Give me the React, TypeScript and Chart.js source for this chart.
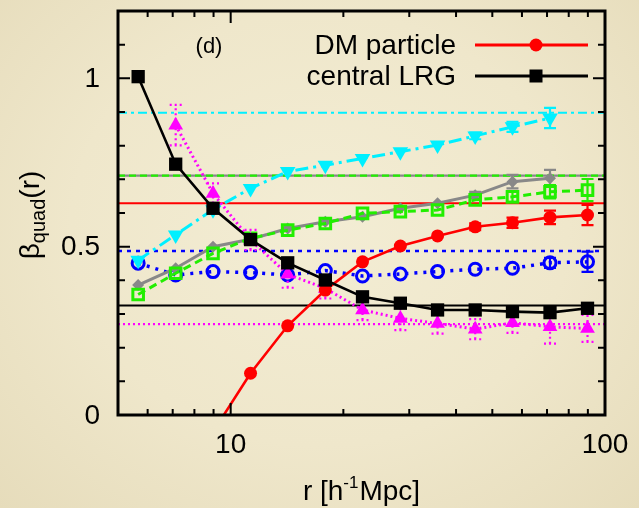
import React, { useEffect, useRef } from "react";
import { Chart, registerables } from "chart.js";

Chart.register(...registerables);

// ---- data ----
const rValues = [5.66, 7.13, 8.97, 11.3, 14.2, 17.9, 22.5, 28.4, 35.7, 45.0, 56.6, 71.3, 89.8];

const dmParticle = [null, null, -0.05, 0.124, 0.265, 0.371, 0.455, 0.502, 0.532, 0.559, 0.571, 0.587, 0.594];
const dmParticleErr = [null, null, null, null, null, null, null, null, null, 0.01, 0.015, 0.02, 0.03];

const centralLRG = [1.005, 0.745, 0.614, 0.521, 0.452, 0.401, 0.351, 0.332, 0.312, 0.312, 0.307, 0.304, 0.317];
const centralLRGErr = [null, null, null, null, null, null, null, null, null, null, null, null, 0.015];

const magentaSeries = [null, 0.861, 0.658, 0.52, 0.418, 0.376, 0.312, 0.287, 0.272, 0.255, 0.274, 0.262, 0.257];
const magentaErr = [null, 0.06, 0.03, 0.03, 0.04, 0.03, 0.03, 0.035, 0.03, 0.03, 0.03, 0.05, 0.04];

const cyanSeries = [0.46, 0.535, 0.61, 0.673, 0.723, 0.742, 0.762, 0.782, 0.802, 0.829, 0.856, 0.882, null];
const cyanErr = [null, null, null, null, null, null, null, null, null, 0.01, 0.015, 0.03, null];

const graySeries = [0.386, 0.436, 0.5, 0.522, 0.554, 0.574, 0.589, 0.614, 0.629, 0.653, 0.693, 0.703, null];
const grayErr = [null, null, null, null, null, null, null, null, null, 0.01, 0.02, 0.025, null];

const greenSeries = [0.358, 0.421, 0.48, 0.525, 0.549, 0.569, 0.599, 0.604, 0.609, 0.639, 0.648, 0.663, 0.668];
const greenErr = [null, null, null, null, null, null, null, null, null, null, 0.015, 0.02, 0.033];

const blueSeries = [0.451, 0.416, 0.426, 0.423, 0.416, 0.429, 0.413, 0.419, 0.426, 0.433, 0.436, 0.452, 0.455];
const blueErr = [null, null, null, null, null, null, null, null, null, null, null, 0.015, 0.03];

// reference (horizontal) levels
const refRed = 0.629;
const refBlack = 0.325;
const refMagenta = 0.27;
const refCyan = 0.898;
const refGreen = 0.711;
const refGray = 0.711;
const refBlue = 0.487;

const xRange = [5, 100];
const yRange = [0, 1.2];

const xMajorTicks = [10, 100];
const xMinorTicks = [6, 7, 8, 9, 20, 30, 40, 50, 60, 70, 80, 90];
const yMajorTicks = [0, 0.5, 1];
const yMinorTicks = [0.1, 0.2, 0.3, 0.4, 0.6, 0.7, 0.8, 0.9, 1.1];
const xTickLabels = ["10", "100"];
const yTickLabels = ["0", "0.5", "1"];

const legendLabels = ["DM particle", "central LRG"];
const panelLabel = "(d)";

const FONT = '"Liberation Sans", Arial, Helvetica, sans-serif';

function pts(vals: (number | null)[]) {
  return rValues.map((x, i) => ({ x, y: vals[i] }));
}
function refPts(v: number) {
  return [
    { x: xRange[0], y: v },
    { x: xRange[1], y: v },
  ];
}

const overlayPlugin = {
  id: "overlay",
  afterDatasetDraw(chart: any, args: any) {
    const ds: any = chart.data.datasets[args.index];
    if (!ds.errors) return;
    const { ctx, chartArea } = chart;
    const xs = chart.scales.x;
    const ys = chart.scales.y;
    ctx.save();
    ctx.beginPath();
    ctx.rect(chartArea.left, chartArea.top, chartArea.right - chartArea.left, chartArea.bottom - chartArea.top);
    ctx.clip();
    ctx.strokeStyle = ds.borderColor;
    ctx.lineWidth = 2.2;
    ctx.setLineDash(ds.errDash || []);
    ds.data.forEach((p: any, i: number) => {
      const e = ds.errors[i];
      if (e == null || p.y == null) return;
      const px = xs.getPixelForValue(p.x);
      const y1 = ys.getPixelForValue(p.y - e);
      const y2 = ys.getPixelForValue(p.y + e);
      ctx.beginPath();
      ctx.moveTo(px, y1);
      ctx.lineTo(px, y2);
      ctx.moveTo(px - 6, y1);
      ctx.lineTo(px + 6, y1);
      ctx.moveTo(px - 6, y2);
      ctx.lineTo(px + 6, y2);
      ctx.stroke();
    });
    ctx.restore();
  },
  afterDraw(chart: any) {
    const { ctx, chartArea } = chart;
    const xs = chart.scales.x;
    const ys = chart.scales.y;
    const { left, right, top, bottom } = chartArea;
    ctx.save();
    ctx.setLineDash([]);
    ctx.strokeStyle = "#000";
    // ticks
    ctx.lineWidth = 2;
    const xt = (v: number, len: number) => {
      const px = xs.getPixelForValue(v);
      ctx.beginPath();
      ctx.moveTo(px, bottom);
      ctx.lineTo(px, bottom - len);
      ctx.moveTo(px, top);
      ctx.lineTo(px, top + len);
      ctx.stroke();
    };
    const yt = (v: number, len: number) => {
      const py = ys.getPixelForValue(v);
      ctx.beginPath();
      ctx.moveTo(left, py);
      ctx.lineTo(left + len, py);
      ctx.moveTo(right, py);
      ctx.lineTo(right - len, py);
      ctx.stroke();
    };
    xMajorTicks.forEach((v) => xt(v, 12));
    xMinorTicks.forEach((v) => xt(v, 6));
    yMajorTicks.forEach((v) => yt(v, 12));
    yMinorTicks.forEach((v) => yt(v, 7));
    // frame
    ctx.lineWidth = 3;
    ctx.strokeRect(left, top, right - left, bottom - top);

    // tick labels
    ctx.fillStyle = "#000";
    ctx.font = `28px ${FONT}`;
    ctx.textAlign = "center";
    ctx.textBaseline = "middle";
    xMajorTicks.forEach((v, i) => {
      ctx.fillText(xTickLabels[i], xs.getPixelForValue(v), bottom + 30);
    });
    ctx.textAlign = "right";
    yMajorTicks.forEach((v, i) => {
      ctx.fillText(yTickLabels[i], left - 18, ys.getPixelForValue(v) + 1);
    });

    // x title: r [h^-1 Mpc]
    ctx.textBaseline = "alphabetic";
    ctx.textAlign = "left";
    const big = `28px ${FONT}`;
    const small = `17px ${FONT}`;
    ctx.font = big;
    const a = "r [h";
    const b = "-1";
    const c = "Mpc]";
    const wa = ctx.measureText(a).width;
    const wc = ctx.measureText(c).width;
    ctx.font = small;
    const wb = ctx.measureText(b).width;
    const total = wa + wb + wc + 1;
    let sx = (left + right) / 2 - total / 2;
    const by = 500;
    ctx.font = big;
    ctx.fillText(a, sx, by);
    sx += wa;
    ctx.font = small;
    ctx.fillText(b, sx, by - 12);
    sx += wb + 1;
    ctx.font = big;
    ctx.fillText(c, sx, by);

    // y title: beta_quad(r)
    ctx.save();
    ctx.translate(39, (top + bottom) / 2 + 2);
    ctx.rotate(-Math.PI / 2);
    const t1 = "\u03b2";
    const t2 = "quad";
    const t3 = "(r)";
    ctx.font = big;
    const w1 = ctx.measureText(t1).width;
    const w3 = ctx.measureText(t3).width;
    ctx.font = `20px ${FONT}`;
    const w2 = ctx.measureText(t2).width;
    let tx = -(w1 + w2 + w3) / 2;
    ctx.font = big;
    ctx.fillText(t1, tx, 0);
    tx += w1;
    ctx.font = `20px ${FONT}`;
    ctx.fillText(t2, tx, 6);
    tx += w2;
    ctx.font = big;
    ctx.fillText(t3, tx, 0);
    ctx.restore();

    // panel label
    ctx.font = `22px ${FONT}`;
    ctx.textAlign = "center";
    ctx.textBaseline = "middle";
    ctx.fillText(panelLabel, 209, 47);

    // legend
    const rows = [
      { label: legendLabels[0], color: "#ff0000", marker: "circle", y: 45 },
      { label: legendLabels[1], color: "#000000", marker: "square", y: 76 },
    ];
    rows.forEach((r) => {
      ctx.font = big;
      ctx.textAlign = "right";
      ctx.textBaseline = "middle";
      ctx.fillStyle = "#000";
      ctx.fillText(r.label, 456, r.y + 1);
      ctx.strokeStyle = r.color;
      ctx.fillStyle = r.color;
      ctx.lineWidth = 3;
      ctx.beginPath();
      ctx.moveTo(475, r.y);
      ctx.lineTo(588, r.y);
      ctx.stroke();
      if (r.marker === "circle") {
        ctx.beginPath();
        ctx.arc(536, r.y, 6.5, 0, Math.PI * 2);
        ctx.fill();
      } else {
        ctx.fillRect(536 - 6.5, r.y - 6.5, 13, 13);
      }
    });
    ctx.restore();
  },
};

function refDataset(v: number, color: string, dash: number[], width: number) {
  return {
    data: refPts(v),
    borderColor: color,
    borderWidth: width,
    borderDash: dash,
    pointRadius: 0,
    fill: false,
  };
}

export default function App() {
  const canvasRef = useRef<HTMLCanvasElement | null>(null);

  useEffect(() => {
    document.body.style.margin = "0";
    const canvas = canvasRef.current;
    if (!canvas) return;
    const chart = new Chart(canvas, {
      type: "line",
      data: {
        datasets: [
          {
            label: "central LRG",
            data: pts(centralLRG),
            errors: centralLRGErr,
            borderColor: "#000000",
            backgroundColor: "#000000",
            borderWidth: 2.6,
            pointStyle: "rect",
            pointRadius: 9.4,
            pointBorderWidth: 0,
          } as any,
          {
            label: "DM particle",
            data: pts(dmParticle),
            errors: dmParticleErr,
            borderColor: "#ff0000",
            backgroundColor: "#ff0000",
            borderWidth: 2.6,
            pointStyle: "circle",
            pointRadius: 6.5,
            pointBorderWidth: 0,
            clip: 0,
          } as any,
          {
            label: "magenta",
            data: pts(magentaSeries),
            errors: magentaErr,
            errDash: [2, 3],
            borderColor: "#ff00ff",
            backgroundColor: "#ff00ff",
            borderWidth: 3,
            borderDash: [2, 3],
            pointStyle: "triangle",
            pointRadius: 8.5,
            pointBorderWidth: 0,
          } as any,
          {
            label: "cyan",
            data: pts(cyanSeries),
            errors: cyanErr,
            borderColor: "#00f0ff",
            backgroundColor: "#00f0ff",
            borderWidth: 3,
            borderDash: [13, 5, 3, 5],
            pointStyle: "triangle",
            rotation: 180,
            pointRadius: 9,
            pointBorderWidth: 0,
          } as any,
          {
            label: "green",
            data: pts(greenSeries),
            errors: greenErr,
            borderColor: "#22ee00",
            backgroundColor: "rgba(0,0,0,0)",
            borderWidth: 3,
            borderDash: [8, 5],
            pointStyle: "rect",
            pointRadius: 7.5,
            pointBorderWidth: 3,
          } as any,
          {
            label: "gray",
            data: pts(graySeries),
            errors: grayErr,
            borderColor: "#888888",
            backgroundColor: "#888888",
            borderWidth: 3,
            pointStyle: "rectRot",
            pointRadius: 6,
            pointBorderWidth: 0,
          } as any,
          {
            label: "blue",
            data: pts(blueSeries),
            errors: blueErr,
            borderColor: "#0000ff",
            backgroundColor: "rgba(0,0,0,0)",
            borderWidth: 3.5,
            borderDash: [3, 6],
            pointStyle: "circle",
            pointRadius: 6,
            pointBorderWidth: 3,
          } as any,
          refDataset(refBlack, "#000000", [], 2),
          refDataset(refRed, "#ff0000", [], 2),
          refDataset(refMagenta, "#ff00ff", [2, 3], 2.2),
          refDataset(refCyan, "#00f0ff", [9, 4, 3, 4], 2),
          refDataset(refGreen, "#22ee00", [7, 4], 2.2),
          refDataset(refGray, "#888888", [], 2.2),
          refDataset(refBlue, "#0000ff", [4, 5], 2.4),
        ],
      },
      options: {
        responsive: false,
        animation: false,
        devicePixelRatio: 1,
        layout: { padding: { left: 118, right: 34, top: 11, bottom: 93 } },
        scales: {
          x: { type: "logarithmic", min: xRange[0], max: xRange[1], display: false },
          y: { type: "linear", min: yRange[0], max: yRange[1], display: false },
        },
        plugins: {
          legend: { display: false },
          tooltip: { enabled: false },
        },
        elements: { line: { tension: 0 } },
      },
      plugins: [overlayPlugin],
    } as any);
    return () => chart.destroy();
  }, []);

  return (
    <div
      style={{
        position: "fixed",
        left: 0,
        top: 0,
        width: 639,
        height: 508,
        background:
          "radial-gradient(ellipse at 50% 45%, #f3edd4 0%, #efe7cb 55%, #e6dcbb 100%)",
      }}
    >
      <canvas ref={canvasRef} width={639} height={508} style={{ display: "block" }} />
    </div>
  );
}
